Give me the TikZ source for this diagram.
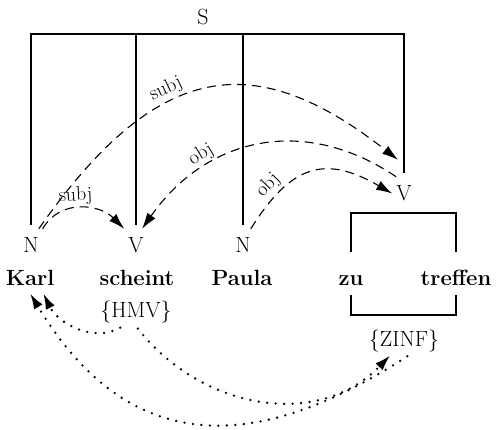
\documentclass[tikz,border=0pt]{standalone}
\usetikzlibrary{arrows.meta}

\tikzset{
    cat/.style={font=\fontsize{22}{26}\selectfont, anchor=base,
        inner xsep=4pt, inner ysep=9pt, text height=15pt, text depth=0pt},
    word/.style={font=\fontsize{22}{26}\selectfont\bfseries, anchor=base,
        inner sep=3pt, text height=16pt, text depth=4pt},
    feat/.style={font=\fontsize{22}{26}\selectfont, anchor=base,
        inner sep=3pt, text height=16pt, text depth=5pt},
    tree/.style={line width=1.5pt},
    dep/.style={line width=1.1pt, dash pattern=on 9pt off 6pt,
        -{Latex[length=16pt,width=10pt]}},
    ref/.style={line width=2.6pt, dash pattern=on 0pt off 8.5pt, line cap=round,
        -{Latex[length=16pt,width=10pt]}},
    lab/.style={font=\fontsize{20}{24}\selectfont, sloped, above, inner sep=3pt}
}

\begin{document}
\begin{tikzpicture}[x=1pt, y=1pt]

    \useasboundingbox (0,0) rectangle (496,-430);

    % -------------------------------------------------------------
    % categories and words
    % -------------------------------------------------------------
    \node[cat] (S) at (203,-25) {S};
    \coordinate (top) at (0,-34);

    \node[cat] (Nk) at (31,-253) {N};
    \node[cat] (Vs) at (136,-253) {V};
    \node[cat] (Np) at (243,-253) {N};
    \node[cat] (Vr) at (404,-201) {V};

    \node[word] (Karl) at (30,-286) {Karl};
    \node[word] (scheint) at (137,-286) {scheint};
    \node[word] (Paula) at (242,-286) {Paula};
    \node[word] (zu) at (351,-286) {zu};
    \node[word] (treffen) at (456,-286) {treffen};

    \node[feat] (HMV) at (136,-318) {\{HMV\}};
    \node[feat] (ZINF) at (404,-347) {\{ZINF\}};

    % -------------------------------------------------------------
    % constituent structure
    % -------------------------------------------------------------
    \draw[tree, shorten <=4pt, shorten >=4pt] (Nk.north) -- (Nk.north |- top)
        -- (Vr.north |- top) -- (Vr.north);
    \draw[tree, shorten <=4pt] (Vs.north) -- (Vs.north |- top);
    \draw[tree, shorten <=4pt] (Np.north) -- (Np.north |- top);

    % zu treffen bracket
    \coordinate (boxtop) at (0,-213);
    \coordinate (boxbot) at (0,-315);
    \draw[tree, shorten <=15pt, shorten >=15pt] (zu.north) -- (zu.north |- boxtop)
        -- (treffen.north |- boxtop) -- (treffen.north);
    \draw[tree, shorten <=2pt, shorten >=2pt] (zu.south) -- (zu.south |- boxbot)
        -- (treffen.south |- boxbot) -- (treffen.south);

    % -------------------------------------------------------------
    % dependencies
    % -------------------------------------------------------------
    \draw[dep] (Nk.65) to[out=55, in=142, out distance=210pt, in distance=180pt]
        node[lab, pos=0.385] {subj} ([shift={(-6pt,17pt)}]Vr.north);
    \draw[dep] (Nk.55) to[out=60, in=135, looseness=1.1]
        node[lab, pos=0.45] {subj} (Vs.north west);
    \draw[dep] (Vr.115) to[out=146, in=55, looseness=1.1]
        node[lab, pos=0.7] {obj} (Vs.70);
    \draw[dep] (Np.65) to[out=58, in=150, looseness=1.35]
        node[lab, pos=0.22] {obj} (Vr.west);

    % -------------------------------------------------------------
    % references
    % -------------------------------------------------------------
    \draw[ref, shorten <=3pt] (HMV.226) to[out=210, in=-64] (Karl.-45);
    \draw[ref, shorten <=3pt] (HMV.south) to[out=-52, in=226, looseness=1.05] (ZINF.225);
    \draw[ref, shorten <=2pt] (ZINF.290) to[out=213, in=-59, looseness=1.25] (Karl.south);

\end{tikzpicture}
\end{document}
